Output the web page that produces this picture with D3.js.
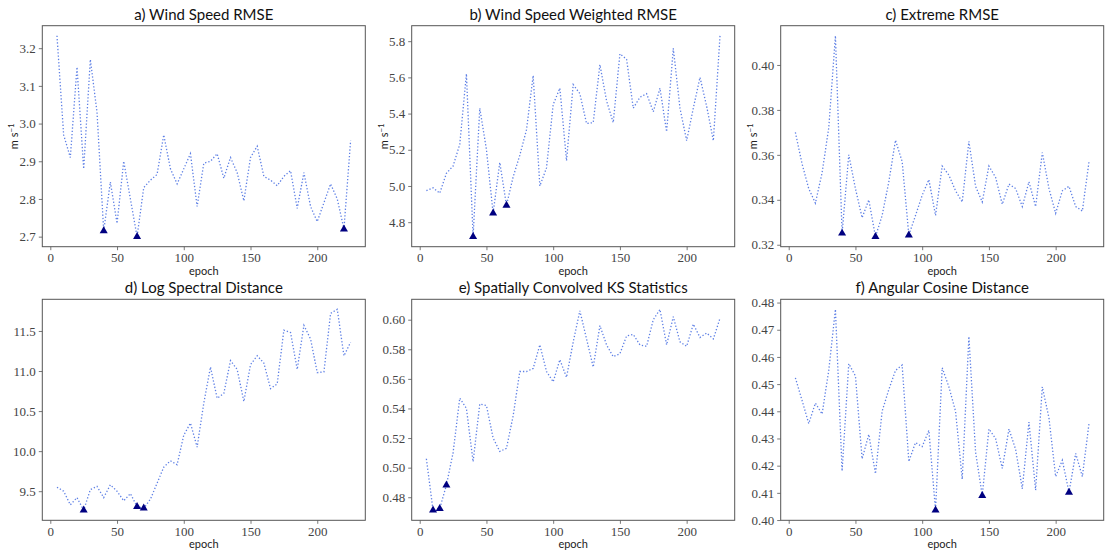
<!DOCTYPE html>
<html>
<head>
<meta charset="utf-8">
<script src="https://cdn.jsdelivr.net/npm/d3@7"></script>
<style>
  body { margin: 0; background: #fff; }
  svg { display: block; }
</style>
</head>
<body>
<svg id="chart"></svg>
<script>
// epochs shared by every panel
const epochs = [5, 10, 15, 20, 25, 30, 35, 40, 45, 50, 55, 60, 65, 70, 75, 80, 85, 90, 95, 100,
  105, 110, 115, 120, 125, 130, 135, 140, 145, 150, 155, 160, 165, 170, 175, 180, 185, 190, 195, 200,
  205, 210, 215, 220, 225]
const xTicks = [0, 50, 100, 150, 200]

const titles = ['a) Wind Speed RMSE', 'b) Wind Speed Weighted RMSE', 'c) Extreme RMSE',
  'd) Log Spectral Distance', 'e) Spatially Convolved KS Statistics', 'f) Angular Cosine Distance']

const windRmse = [3.233, 2.97, 2.91, 3.15, 2.88, 3.17, 3.03, 2.715, 2.845, 2.735, 2.90, 2.80, 2.70, 2.83, 2.85,
  2.865, 2.97, 2.88, 2.84, 2.88, 2.92, 2.78, 2.895, 2.90, 2.92, 2.855, 2.91, 2.87, 2.795, 2.91,
  2.94, 2.86, 2.85, 2.835, 2.86, 2.875, 2.775, 2.87, 2.78, 2.74, 2.79, 2.84, 2.80, 2.72, 2.955]
const weightedRmse = [4.974, 4.99, 4.96, 5.07, 5.11, 5.23, 5.62, 4.72, 5.43, 5.20, 4.85, 5.13, 4.893, 5.05, 5.17,
  5.31, 5.61, 5.00, 5.10, 5.45, 5.54, 5.14, 5.56, 5.51, 5.345, 5.35, 5.67, 5.47, 5.35, 5.73,
  5.70, 5.43, 5.49, 5.51, 5.41, 5.54, 5.30, 5.76, 5.43, 5.25, 5.43, 5.60, 5.44, 5.25, 5.83]
const extremeRmse = [0.370, 0.356, 0.345, 0.3385, 0.352, 0.372, 0.413, 0.3251, 0.360, 0.345, 0.332, 0.340, 0.3236, 0.333, 0.348,
  0.3665, 0.357, 0.3243, 0.333, 0.342, 0.349, 0.333, 0.355, 0.351, 0.344, 0.339, 0.366, 0.346, 0.339, 0.355,
  0.350, 0.338, 0.347, 0.345, 0.337, 0.348, 0.337, 0.361, 0.345, 0.334, 0.344, 0.346, 0.337, 0.335, 0.357]
const logSpectral = [9.55, 9.50, 9.33, 9.42, 9.262, 9.52, 9.56, 9.42, 9.58, 9.50, 9.38, 9.47, 9.308, 9.287, 9.40,
  9.60, 9.80, 9.88, 9.83, 10.20, 10.35, 10.05, 10.60, 11.05, 10.66, 10.72, 11.13, 11.02, 10.62, 11.08,
  11.19, 11.10, 10.78, 10.84, 11.51, 11.48, 11.02, 11.57, 11.40, 10.98, 10.99, 11.72, 11.77, 11.19, 11.36]
const ksStats = [0.506, 0.4712, 0.4723, 0.4882, 0.510, 0.547, 0.540, 0.504, 0.543, 0.542, 0.520, 0.511, 0.513, 0.535, 0.565,
  0.565, 0.567, 0.583, 0.565, 0.558, 0.573, 0.561, 0.585, 0.606, 0.587, 0.568, 0.596, 0.583, 0.575, 0.577,
  0.589, 0.590, 0.583, 0.582, 0.600, 0.607, 0.583, 0.602, 0.585, 0.582, 0.597, 0.588, 0.591, 0.587, 0.601]
const cosineDist = [0.4523, 0.444, 0.4355, 0.443, 0.439, 0.455, 0.4775, 0.418, 0.4575, 0.453, 0.4225, 0.4315, 0.417, 0.440, 0.448,
  0.455, 0.457, 0.4215, 0.4285, 0.427, 0.433, 0.4036, 0.456, 0.449, 0.440, 0.415, 0.4675, 0.425, 0.409, 0.4335,
  0.430, 0.419, 0.4335, 0.426, 0.4115, 0.436, 0.411, 0.449, 0.4375, 0.416, 0.422, 0.4102, 0.4245, 0.416, 0.4355]

// epochs flagged with a triangle in each panel
const bestEpochs = [[40, 65, 220], [40, 55, 65], [40, 65, 90], [25, 65, 70], [10, 15, 20], [110, 145, 210]]

const yTicks = [
  [2.7, 2.8, 2.9, 3.0, 3.1, 3.2],
  [4.8, 5.0, 5.2, 5.4, 5.6, 5.8],
  [0.32, 0.34, 0.36, 0.38, 0.40],
  [9.5, 10.0, 10.5, 11.0, 11.5],
  [0.48, 0.50, 0.52, 0.54, 0.56, 0.58, 0.60],
  [0.40, 0.41, 0.42, 0.43, 0.44, 0.45, 0.46, 0.47, 0.48]
]
const yFormats = ['.1f', '.1f', '.2f', '.1f', '.2f', '.2f']
const series = [windRmse, weightedRmse, extremeRmse, logSpectral, ksStats, cosineDist]

const WIDTH = 1105
const HEIGHT = 552
const COL_LEFT = [42.3, 411.7, 780.7]
const ROW_TOP = [25.7, 299.3]
const PW = 323
const PH = 221
const FRAME = '#555'
const TICK_FONT = '"Liberation Serif", serif'
const SANS = 'Lato, "Open Sans", sans-serif'

function padded(values) {
  const [lo, hi] = d3.extent(values)
  const m = (hi - lo) * 0.05
  return [lo - m, hi + m]
}

const svg = d3.select('#chart')
  .attr('width', WIDTH)
  .attr('height', HEIGHT)

function drawPanel(i) {
  const data = series[i]
  const left = COL_LEFT[i % 3]
  const top = ROW_TOP[Math.floor(i / 3)]
  const points = epochs.map((e, k) => ({epoch: e, value: data[k]}))

  const x = d3.scaleLinear().domain(padded(epochs)).range([0, PW])
  const y = d3.scaleLinear().domain(padded(data)).range([PH, 0])

  const g = svg.append('g')
    .attr('class', 'panel')
    .attr('transform', `translate(${left},${top})`)

  const xAxis = g.append('g')
    .attr('transform', `translate(0,${PH})`)
    .call(d3.axisBottom(x).tickValues(xTicks).tickSize(3.5).tickPadding(3).tickFormat(d3.format('d')))
  const yAxis = g.append('g')
    .call(d3.axisLeft(y).tickValues(yTicks[i]).tickSize(3.5).tickPadding(3).tickFormat(d3.format(yFormats[i])))

  for (const ax of [xAxis, yAxis]) {
    ax.select('.domain').remove()
    ax.selectAll('line').attr('stroke', FRAME).attr('stroke-width', 0.8)
    ax.selectAll('text')
      .attr('fill', '#444')
      .style('font-family', TICK_FONT)
      .style('font-size', '13px')
  }

  const line = d3.line()
    .x(d => x(d.epoch))
    .y(d => y(d.value))

  g.append('path')
    .datum(points)
    .attr('fill', 'none')
    .attr('stroke', '#4169e1')
    .attr('stroke-opacity', 0.85)
    .attr('stroke-width', 1.3)
    .attr('stroke-dasharray', '1.3,2')
    .attr('d', line)

  const best = points.filter(d => bestEpochs[i].includes(d.epoch))
  g.selectAll('.best')
    .data(best)
    .enter().append('path')
      .attr('class', 'best')
      .attr('transform', d => `translate(${x(d.epoch)},${y(d.value)})`)
      .attr('d', d3.symbol(d3.symbolTriangle, 28))
      .attr('fill', '#000080')

  g.append('rect')
    .attr('width', PW)
    .attr('height', PH)
    .attr('fill', 'none')
    .attr('stroke', FRAME)
    .attr('stroke-width', 1)

  g.append('text')
    .attr('x', PW / 2)
    .attr('y', -6)
    .attr('text-anchor', 'middle')
    .attr('fill', '#111')
    .style('font-family', SANS)
    .style('font-size', '15px')
    .text(titles[i])

  g.append('text')
    .attr('x', PW / 2)
    .attr('y', PH + 28)
    .attr('text-anchor', 'middle')
    .attr('fill', '#222')
    .style('font-family', SANS)
    .style('font-size', '11px')
    .text('epoch')

  if (i < 3) {
    const lab = g.append('text')
      .attr('transform', `translate(-24,${PH / 2}) rotate(-90)`)
      .attr('text-anchor', 'middle')
      .attr('fill', '#222')
      .style('font-family', SANS)
      .style('font-size', '11px')
    lab.append('tspan').text('m s')
    lab.append('tspan')
      .attr('dy', -4)
      .style('font-size', '8px')
      .text('\u22121')
  }
}

for (let i = 0; i < 6; i++) drawPanel(i)
</script>
</body>
</html>
